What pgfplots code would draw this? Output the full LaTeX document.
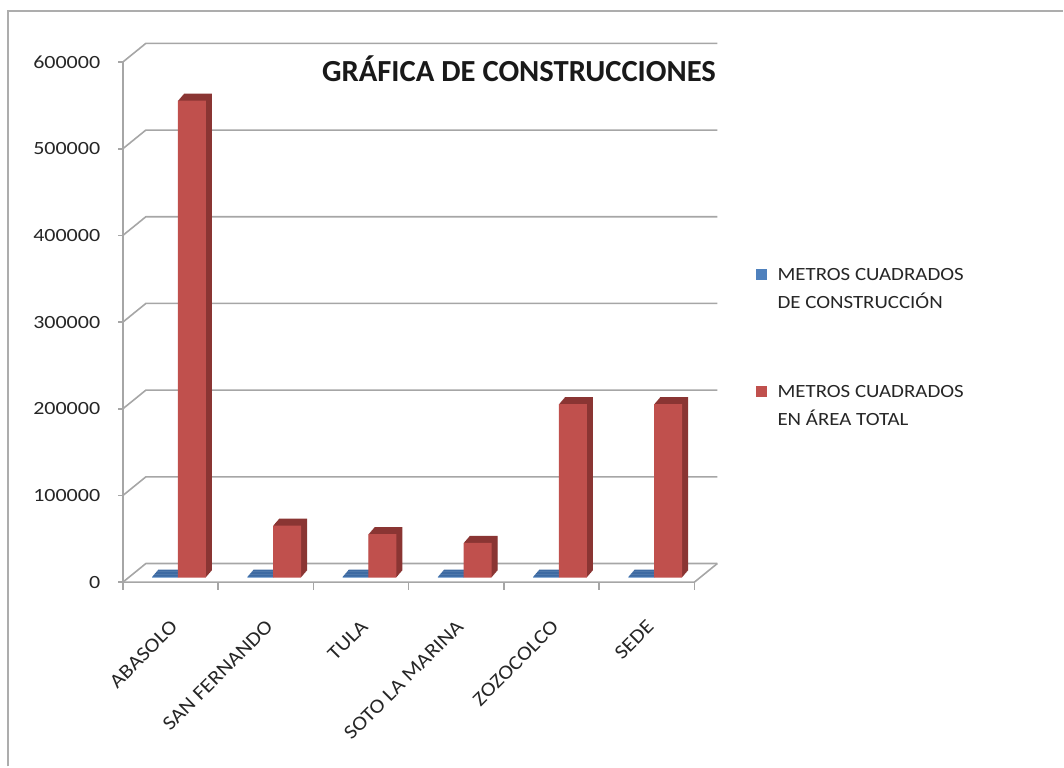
\documentclass[border=0pt]{standalone}
\usepackage{pgfplots}
\pgfplotsset{compat=1.18}
\usepackage{pgfplotstable}
\usepackage{fontspec}
\setmainfont{Carlito}
\newfontfamily\widefont[FakeStretch=1.12]{Carlito}
\newfontfamily\tickfont[FakeStretch=1.18]{Carlito}
\definecolor{redF}{HTML}{C0504D}
\definecolor{redD}{HTML}{8A3533}
\definecolor{blueF}{HTML}{4F81BD}
\definecolor{blueD}{HTML}{3D6AA2}
\definecolor{gridc}{HTML}{A6A6A6}
\definecolor{framec}{HTML}{ADADAD}

\pgfplotstableread{
idx cons total
0 1000 550000
1 1000 60000
2 1000 50000
3 1000 40000
4 1000 200000
5 1000 200000
}\datatable

\begin{document}
\begin{tikzpicture}
\path (0,0) rectangle (798pt,575.25pt);
\begin{axis}[
  at={(92.25pt,138.2pt)}, anchor=south west,
  scale only axis, width=429pt, height=390.5pt,
  xmin=-0.5, xmax=5.5, ymin=0, ymax=600000,
  enlargelimits=false, clip=false,
  axis line style={draw=none},
  major tick length=0pt,
  ytick={0,100000,200000,300000,400000,500000,600000},
  scaled y ticks=false,
  /pgf/number format/assume math mode=true,
  yticklabel style={/pgf/number format/fixed, /pgf/number format/1000 sep={},
    font=\tickfont\fontsize{14}{16}\selectfont, text=black!85, xshift=-13.5pt},
  xtick={0,1,2,3,4,5},
  xticklabels={ABASOLO,SAN FERNANDO,TULA,SOTO LA MARINA,ZOZOCOLCO,SEDE},
  xticklabel style={xshift=-0.75pt, yshift=-22.5pt, rotate=45, anchor=north east,
    font=\widefont\fontsize{15}{17}\selectfont, text=black!85},
]
% back wall gridlines with left connectors
\pgfplotsinvokeforeach{0,100000,200000,300000,400000,500000,600000}{
  \draw[gridc, line width=1.2pt] (axis cs:-0.5,#1) -- ([shift={(17.25pt,14pt)}]axis cs:-0.5,#1)
     -- ([shift={(17.25pt,14pt)}]axis cs:5.5,#1);
  \draw[gridc, line width=1.2pt] (axis cs:-0.5,#1) -- ++(-3.75pt,0pt);
}
% front y axis and floor
\draw[gridc, line width=1.2pt] (axis cs:-0.5,0) -- (axis cs:-0.5,600000);
\draw[gridc, line width=1.2pt] (axis cs:-0.5,0) -- (axis cs:5.5,0) -- ++(17.25pt,14pt);
\pgfplotsinvokeforeach{-0.5,0.5,1.5,2.5,3.5,4.5,5.5}{
  \draw[gridc, line width=1.2pt] (axis cs:#1,0) -- ++(0pt,-6pt);
}
% blue series: depth then front
\pgfplotsinvokeforeach{1,...,12}{
  \addplot[ybar, bar width=19.5pt, bar shift=-4.1pt, fill=blueD, draw=none,
    xshift={#1*0.375pt}, yshift={3.5pt+#1*0.4375pt}, forget plot]
    table[x=idx,y=cons]{\datatable};
}
\addplot[ybar, bar width=19.5pt, bar shift=-4.1pt, fill=blueF, draw=none, yshift=3.5pt, forget plot]
    table[x=idx,y=cons]{\datatable};
% red series: depth then front
\pgfplotsinvokeforeach{1,...,12}{
  \addplot[ybar, bar width=21pt, bar shift=16.1pt, fill=redD, draw=none,
    xshift={#1*0.375pt}, yshift={3.5pt+#1*0.4375pt}, forget plot]
    table[x=idx,y=total]{\datatable};
}
\addplot[ybar, bar width=21pt, bar shift=16.1pt, fill=redF, draw=none, yshift=3.5pt, forget plot]
    table[x=idx,y=total]{\datatable};
\end{axis}
\begin{scope}[yshift=575.25pt, x=0.75pt, y=-0.75pt]
  \draw[framec, line width=1.5pt] (8,767) -- (8,11) -- (1064,11);
  \node[font=\fontsize{23}{27}\selectfont\bfseries, text=black!90] at (519.5,69) {GRÁFICA DE CONSTRUCCIONES};
  \fill[blueF] (756.5,269.5) rectangle (767.5,280.5);
  \fill[redF] (756.5,386.5) rectangle (767.5,397.5);
  \begin{scope}[every node/.style={anchor=base west, inner sep=0pt, text=black!85,
      font=\widefont\fontsize{14}{16}\selectfont}]
    \node at (778,281) {METROS CUADRADOS};
    \node at (778,309) {DE CONSTRUCCIÓN};
    \node at (778,398) {METROS CUADRADOS};
    \node at (778,426) {EN ÁREA TOTAL};
  \end{scope}
\end{scope}
\end{tikzpicture}
\end{document}
